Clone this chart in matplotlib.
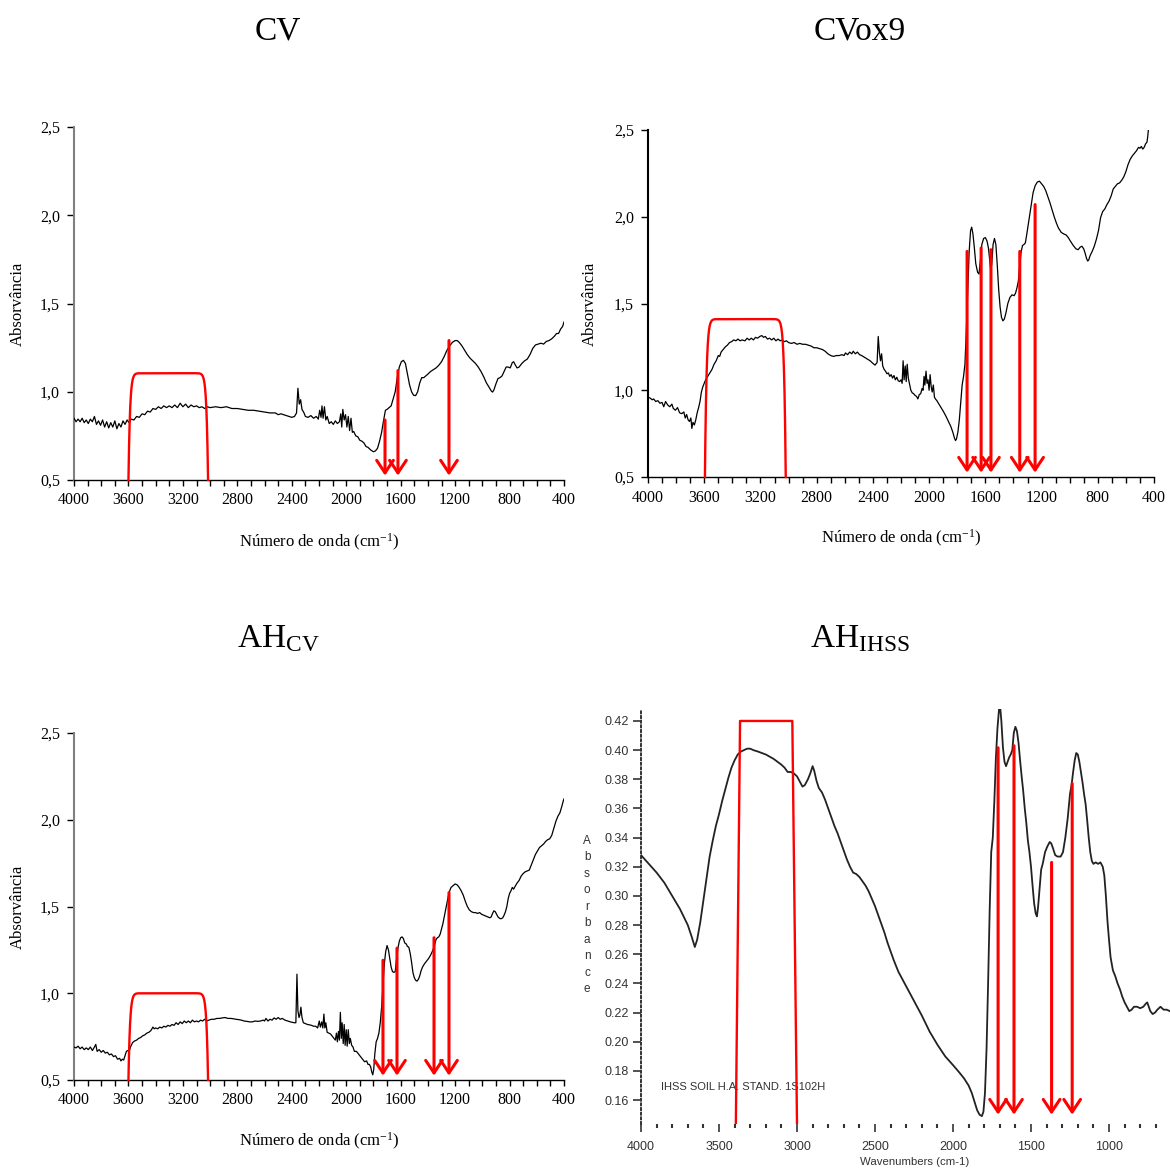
import numpy as np
import matplotlib
matplotlib.use('Agg')
import matplotlib.pyplot as plt
from matplotlib.ticker import MultipleLocator, FuncFormatter, FormatStrFormatter

plt.rcParams['font.family'] = ['Liberation Serif', 'DejaVu Serif']
plt.rcParams['mathtext.fontset'] = 'custom'
plt.rcParams['mathtext.rm'] = 'Liberation Serif'
plt.rcParams['mathtext.it'] = 'Liberation Serif:italic'

# ---- CV ----
cv_wn = [4000, 3985, 3970, 3955, 3940, 3925, 3910, 3895, 3880, 3865, 3850, 3835, 3820, 3805,
         3790, 3775, 3760, 3745, 3730, 3715, 3700, 3685, 3670, 3655, 3640, 3625, 3610, 3595,
         3580, 3560, 3540, 3520, 3500, 3480, 3460, 3440, 3420, 3400, 3380, 3360, 3340, 3320,
         3300, 3280, 3260, 3240, 3220, 3200, 3180, 3160, 3140, 3120, 3100, 3080, 3060, 3040,
         3020, 3000, 2960, 2920, 2880, 2840, 2800, 2760, 2720, 2680, 2640, 2600, 2560, 2520,
         2500, 2480, 2440, 2400, 2380, 2365, 2355, 2345, 2335, 2325, 2310, 2300, 2280, 2260,
         2240, 2220, 2205, 2195, 2185, 2178, 2170, 2160, 2150, 2140, 2125, 2110, 2095, 2080,
         2065, 2050, 2040, 2033, 2025, 2015, 2005, 1995, 1985, 1975, 1965, 1955, 1945, 1930,
         1915, 1900, 1885, 1870, 1855, 1840, 1820, 1800, 1785, 1770, 1755, 1740, 1725, 1712,
         1700, 1685, 1670, 1655, 1640, 1625, 1610, 1595, 1580, 1565, 1550, 1535, 1520, 1505,
         1490, 1475, 1460, 1445, 1430, 1415, 1400, 1380, 1360, 1340, 1320, 1300, 1280, 1260,
         1240, 1220, 1200, 1185, 1170, 1150, 1130, 1110, 1090, 1070, 1050, 1030, 1010, 990,
         970, 950, 935, 925, 915, 900, 885, 870, 855, 840, 825, 810, 795, 780, 770, 760, 745,
         730, 710, 690, 670, 650, 630, 610, 590, 570, 550, 530, 510, 490, 470, 455, 440, 425,
         410, 400]
cv_abs = [0.85, 0.83, 0.845, 0.83, 0.85, 0.825, 0.84, 0.82, 0.845, 0.83, 0.86, 0.815, 0.835, 0.81,
          0.84, 0.80, 0.83, 0.795, 0.825, 0.80, 0.835, 0.79, 0.82, 0.80, 0.835, 0.815, 0.84, 0.825,
          0.845, 0.84, 0.86, 0.855, 0.875, 0.87, 0.89, 0.885, 0.905, 0.90, 0.915, 0.905, 0.92, 0.91,
          0.92, 0.91, 0.925, 0.91, 0.935, 0.915, 0.93, 0.91, 0.925, 0.915, 0.92, 0.91, 0.915, 0.905,
          0.915, 0.91, 0.915, 0.91, 0.915, 0.905, 0.905, 0.90, 0.895, 0.895, 0.89, 0.885, 0.88, 0.88,
          0.87, 0.875, 0.865, 0.855, 0.86, 0.88, 1.02, 0.93, 0.955, 0.90, 0.88, 0.86, 0.855, 0.865,
          0.85, 0.86, 0.845, 0.895, 0.855, 0.92, 0.85, 0.915, 0.84, 0.86, 0.82, 0.83, 0.815, 0.835,
          0.82, 0.83, 0.875, 0.80, 0.90, 0.84, 0.87, 0.80, 0.86, 0.78, 0.85, 0.77, 0.775, 0.75,
          0.745, 0.725, 0.72, 0.71, 0.69, 0.685, 0.67, 0.66, 0.665, 0.68, 0.72, 0.77, 0.84, 0.895,
          0.90, 0.91, 0.92, 0.96, 1.00, 1.08, 1.14, 1.17, 1.178, 1.16, 1.10, 1.04, 1.00, 0.98,
          0.978, 1.00, 1.05, 1.08, 1.08, 1.09, 1.10, 1.115, 1.125, 1.135, 1.15, 1.17, 1.20, 1.235,
          1.26, 1.28, 1.29, 1.29, 1.28, 1.26, 1.235, 1.21, 1.19, 1.175, 1.16, 1.14, 1.115, 1.085,
          1.05, 1.025, 1.005, 0.998, 1.01, 1.045, 1.075, 1.08, 1.09, 1.115, 1.14, 1.14, 1.135, 1.165,
          1.17, 1.155, 1.135, 1.14, 1.16, 1.175, 1.185, 1.21, 1.245, 1.265, 1.27, 1.275, 1.27, 1.285,
          1.29, 1.30, 1.315, 1.33, 1.33, 1.355, 1.37, 1.395]
cv_band = [3600, 3015, 1.105]
cv_arrow_x = [1715, 1620, 1245]
cv_arrow_top = [0.84, 1.12, 1.29]

# ---- CVox9 ----
ox_wn = [4000, 3985, 3970, 3960, 3945, 3930, 3915, 3900, 3888, 3875, 3860, 3845, 3830, 3820,
         3805, 3790, 3775, 3760, 3745, 3735, 3725, 3715, 3705, 3695, 3688, 3680, 3670, 3660,
         3650, 3640, 3630, 3620, 3610, 3600, 3590, 3575, 3560, 3545, 3530, 3515, 3500, 3490,
         3480, 3465, 3450, 3435, 3420, 3405, 3390, 3375, 3360, 3345, 3330, 3310, 3295, 3280,
         3265, 3250, 3235, 3220, 3205, 3190, 3178, 3165, 3150, 3135, 3120, 3105, 3090, 3075,
         3060, 3045, 3030, 3015, 3000, 2980, 2960, 2940, 2920, 2900, 2880, 2860, 2840, 2820,
         2800, 2780, 2760, 2740, 2720, 2700, 2680, 2660, 2640, 2620, 2605, 2595, 2580, 2565,
         2550, 2540, 2525, 2510, 2495, 2480, 2460, 2440, 2420, 2400, 2385, 2370, 2362, 2354,
         2346, 2338, 2330, 2320, 2310, 2300, 2290, 2280, 2270, 2260, 2250, 2240, 2230, 2220,
         2210, 2200, 2192, 2185, 2178, 2170, 2163, 2156, 2148, 2140, 2130, 2120, 2110, 2100,
         2090, 2080, 2070, 2060, 2050, 2043, 2036, 2030, 2022, 2015, 2008, 2000, 1993, 1985,
         1978, 1970, 1962, 1955, 1945, 1930, 1915, 1900, 1880, 1860, 1845, 1830, 1820, 1812,
         1805, 1795, 1785, 1775, 1765, 1755, 1745, 1735, 1725, 1715, 1705, 1697, 1688, 1678,
         1668, 1655, 1645, 1635, 1625, 1612, 1600, 1588, 1578, 1570, 1563, 1555, 1545, 1535,
         1525, 1515, 1505, 1495, 1485, 1475, 1465, 1455, 1440, 1425, 1410, 1395, 1385, 1375,
         1365, 1355, 1345, 1335, 1325, 1315, 1305, 1290, 1275, 1260, 1245, 1230, 1215, 1200,
         1185, 1170, 1155, 1140, 1125, 1110, 1095, 1080, 1060, 1040, 1025, 1010, 995, 975, 955,
         940, 925, 913, 900, 890, 880, 872, 865, 855, 840, 825, 810, 795, 780, 765, 750, 735,
         720, 705, 690, 675, 660, 645, 630, 615, 600, 585, 570, 555, 540, 525, 510, 500, 490,
         480, 470, 460, 450, 445, 440]
ox_abs = [0.96, 0.955, 0.945, 0.95, 0.935, 0.94, 0.925, 0.93, 0.905, 0.935, 0.915, 0.905, 0.92, 0.895,
          0.885, 0.90, 0.87, 0.865, 0.875, 0.84, 0.86, 0.83, 0.82, 0.84, 0.78, 0.815, 0.80, 0.83,
          0.87, 0.90, 0.935, 0.99, 1.02, 1.04, 1.06, 1.08, 1.10, 1.12, 1.15, 1.17, 1.20, 1.195,
          1.22, 1.235, 1.25, 1.26, 1.275, 1.28, 1.29, 1.285, 1.295, 1.285, 1.29, 1.285, 1.30, 1.29,
          1.30, 1.29, 1.305, 1.30, 1.31, 1.315, 1.305, 1.31, 1.295, 1.30, 1.29, 1.30, 1.285, 1.295,
          1.285, 1.29, 1.28, 1.285, 1.275, 1.27, 1.275, 1.265, 1.27, 1.265, 1.265, 1.26, 1.255, 1.245,
          1.245, 1.24, 1.235, 1.225, 1.21, 1.20, 1.195, 1.20, 1.20, 1.205, 1.20, 1.215, 1.205, 1.22,
          1.21, 1.225, 1.21, 1.22, 1.205, 1.20, 1.19, 1.18, 1.17, 1.155, 1.145, 1.16, 1.31, 1.22,
          1.17, 1.21, 1.14, 1.12, 1.11, 1.095, 1.10, 1.08, 1.09, 1.07, 1.085, 1.06, 1.075, 1.055,
          1.05, 1.06, 1.04, 1.17, 1.06, 1.14, 1.05, 1.15, 1.07, 1.04, 1.00, 0.985, 0.98, 0.97,
          0.965, 0.95, 0.975, 0.98, 1.01, 1.00, 1.08, 1.03, 1.11, 1.04, 1.06, 1.00, 1.09, 1.02,
          0.99, 1.03, 0.96, 0.95, 0.94, 0.92, 0.90, 0.88, 0.85, 0.815, 0.79, 0.755, 0.725, 0.71,
          0.72, 0.76, 0.83, 0.93, 1.03, 1.08, 1.15, 1.35, 1.58, 1.80, 1.92, 1.94, 1.90, 1.82,
          1.73, 1.68, 1.67, 1.75, 1.84, 1.875, 1.88, 1.86, 1.82, 1.76, 1.70, 1.72, 1.84, 1.875,
          1.84, 1.72, 1.58, 1.48, 1.42, 1.40, 1.41, 1.44, 1.50, 1.535, 1.55, 1.545, 1.56, 1.59,
          1.63, 1.72, 1.80, 1.835, 1.84, 1.85, 1.90, 1.98, 2.06, 2.14, 2.18, 2.20, 2.205, 2.19,
          2.175, 2.15, 2.115, 2.08, 2.04, 2.00, 1.965, 1.935, 1.91, 1.90, 1.895, 1.88, 1.86, 1.835, 1.815,
          1.81, 1.825, 1.83, 1.815, 1.79, 1.76, 1.745, 1.75, 1.775, 1.80, 1.83, 1.87, 1.92, 1.995, 2.03, 2.045, 2.07,
          2.09, 2.12, 2.16, 2.175, 2.19, 2.195, 2.21, 2.23, 2.26, 2.30, 2.33, 2.35, 2.365, 2.38, 2.40, 2.395, 2.405,
          2.39, 2.40, 2.42, 2.43, 2.46, 2.50]
ox_band = [3595, 3020, 1.41]
ox_arrow_x = [1730, 1630, 1560, 1355, 1246]
ox_arrow_top = [1.80, 1.82, 1.81, 1.80, 2.07]

# ---- AH (CV) ----
ah_wn = [4000, 3985, 3970, 3955, 3940, 3925, 3910, 3895, 3880, 3865, 3850, 3840, 3830, 3815,
         3800, 3785, 3770, 3755, 3740, 3725, 3710, 3695, 3680, 3665, 3655, 3645, 3635, 3625,
         3615, 3605, 3595, 3585, 3570, 3555, 3540, 3525, 3510, 3495, 3480, 3465, 3450, 3435,
         3420, 3410, 3400, 3385, 3370, 3355, 3340, 3325, 3310, 3295, 3280, 3265, 3250, 3235,
         3220, 3205, 3190, 3175, 3160, 3145, 3130, 3115, 3100, 3085, 3070, 3055, 3040, 3025,
         3010, 2990, 2970, 2950, 2930, 2910, 2890, 2870, 2850, 2830, 2810, 2790, 2770, 2750,
         2730, 2710, 2690, 2670, 2650, 2630, 2610, 2600, 2590, 2575, 2560, 2545, 2530, 2515,
         2500, 2485, 2470, 2450, 2430, 2410, 2395, 2380, 2370, 2362, 2355, 2347, 2340, 2333,
         2325, 2315, 2300, 2285, 2270, 2255, 2240, 2225, 2210, 2198, 2190, 2180, 2172, 2164,
         2157, 2150, 2140, 2128, 2115, 2100, 2090, 2080, 2072, 2065, 2057, 2050, 2043, 2036,
         2030, 2022, 2015, 2008, 2000, 1993, 1985, 1977, 1970, 1960, 1950, 1940, 1925, 1910,
         1895, 1880, 1865, 1850, 1840, 1830, 1820, 1812, 1805, 1798, 1790, 1780, 1770, 1760,
         1750, 1740, 1730, 1720, 1710, 1700, 1690, 1680, 1670, 1660, 1650, 1640, 1630, 1620,
         1610, 1600, 1590, 1580, 1570, 1560, 1550, 1540, 1530, 1520, 1510, 1500, 1490, 1480,
         1470, 1460, 1450, 1440, 1425, 1410, 1395, 1380, 1365, 1350, 1340, 1330, 1320, 1310,
         1300, 1290, 1280, 1270, 1260, 1250, 1240, 1230, 1215, 1200, 1185, 1170, 1155, 1140,
         1125, 1110, 1095, 1080, 1065, 1050, 1035, 1020, 1005, 990, 975, 960, 945, 935, 925,
         915, 905, 895, 885, 870, 860, 850, 840, 830, 820, 810, 800, 790, 780, 770, 760, 745,
         730, 715, 700, 685, 670, 655, 640, 625, 610, 595, 580, 565, 550, 535, 520, 505, 490,
         475, 460, 445, 430, 415, 405, 400]
ah_abs = [0.69, 0.685, 0.695, 0.68, 0.69, 0.675, 0.685, 0.675, 0.69, 0.67, 0.69, 0.705, 0.665, 0.675,
          0.66, 0.67, 0.655, 0.66, 0.645, 0.65, 0.635, 0.64, 0.62, 0.625, 0.61, 0.62, 0.615, 0.64,
          0.665, 0.67, 0.665, 0.69, 0.715, 0.725, 0.73, 0.74, 0.745, 0.755, 0.76, 0.77, 0.775, 0.785,
          0.805, 0.795, 0.80, 0.795, 0.805, 0.80, 0.81, 0.805, 0.815, 0.81, 0.82, 0.815, 0.83, 0.82,
          0.835, 0.825, 0.84, 0.83, 0.84, 0.83, 0.845, 0.835, 0.84, 0.835, 0.845, 0.84, 0.85, 0.84,
          0.845, 0.85, 0.85, 0.855, 0.855, 0.858, 0.86, 0.855, 0.855, 0.853, 0.85, 0.848, 0.845, 0.84,
          0.838, 0.835, 0.835, 0.84, 0.838, 0.84, 0.845, 0.84, 0.855, 0.84, 0.85, 0.845, 0.858, 0.85,
          0.86, 0.85, 0.855, 0.845, 0.84, 0.835, 0.832, 0.83, 0.83, 1.11, 0.90, 0.86, 0.875, 0.92,
          0.86, 0.83, 0.825, 0.82, 0.818, 0.815, 0.81, 0.81, 0.80, 0.84, 0.805, 0.835, 0.80, 0.88,
          0.80, 0.83, 0.775, 0.77, 0.765, 0.75, 0.74, 0.73, 0.77, 0.72, 0.78, 0.73, 0.89, 0.74,
          0.83, 0.71, 0.82, 0.70, 0.79, 0.695, 0.79, 0.71, 0.74, 0.70, 0.69, 0.665, 0.665, 0.65,
          0.635, 0.62, 0.605, 0.61, 0.59, 0.59, 0.575, 0.545, 0.53, 0.56, 0.65, 0.72, 0.74, 0.77,
          0.83, 0.92, 1.05, 1.17, 1.24, 1.275, 1.25, 1.20, 1.15, 1.125, 1.12, 1.125, 1.20, 1.26,
          1.30, 1.32, 1.325, 1.315, 1.29, 1.285, 1.27, 1.265, 1.23, 1.18, 1.12, 1.09, 1.075, 1.07,
          1.08, 1.10, 1.13, 1.15, 1.17, 1.185, 1.20, 1.22, 1.245, 1.28, 1.31, 1.32, 1.325, 1.34,
          1.37, 1.40, 1.44, 1.48, 1.52, 1.56, 1.59, 1.61, 1.62, 1.63, 1.625, 1.61, 1.59, 1.565,
          1.53, 1.50, 1.48, 1.47, 1.465, 1.465, 1.46, 1.465, 1.455, 1.45, 1.445, 1.44, 1.435, 1.44, 1.46,
          1.475, 1.47, 1.455, 1.44, 1.43, 1.43, 1.435, 1.45, 1.47, 1.50, 1.545, 1.575, 1.59, 1.61, 1.60, 1.615, 1.635,
          1.65, 1.675, 1.69, 1.70, 1.705, 1.71, 1.74, 1.77, 1.80, 1.82, 1.84, 1.85, 1.86, 1.875, 1.885, 1.89, 1.91,
          1.95, 1.99, 2.02, 2.04, 2.08, 2.11, 2.12]
ah_band = [3600, 3015, 1.0]
ah_arrow_x = [1730, 1627, 1355, 1245]
ah_arrow_top = [1.19, 1.26, 1.32, 1.58]

# ---- AH IHSS standard ----
ihss_wn = [4000, 3950, 3900, 3850, 3800, 3750, 3700, 3675, 3655, 3640, 3620, 3600, 3580, 3560,
           3540, 3520, 3500, 3480, 3460, 3440, 3420, 3400, 3380, 3360, 3340, 3320, 3300, 3280,
           3250, 3200, 3150, 3100, 3080, 3060, 3040, 3020, 3000, 2980, 2965, 2950, 2930, 2915,
           2900, 2890, 2875, 2860, 2840, 2820, 2800, 2780, 2760, 2740, 2720, 2700, 2680, 2660,
           2640, 2620, 2600, 2580, 2560, 2540, 2520, 2500, 2480, 2460, 2440, 2420, 2400, 2380,
           2350, 2300, 2250, 2200, 2150, 2100, 2050, 2000, 1960, 1930, 1900, 1880, 1860, 1845,
           1830, 1815, 1805, 1795, 1785, 1775, 1765, 1755, 1745, 1735, 1725, 1715, 1705, 1698,
           1690, 1680, 1670, 1660, 1650, 1640, 1630, 1620, 1610, 1600, 1590, 1580, 1570, 1560,
           1550, 1540, 1530, 1520, 1510, 1500, 1490, 1480, 1470, 1462, 1455, 1445, 1435, 1425,
           1410, 1395, 1380, 1370, 1360, 1345, 1330, 1310, 1295, 1280, 1265, 1250, 1240, 1230,
           1220, 1210, 1200, 1190, 1180, 1170, 1160, 1150, 1140, 1130, 1120, 1110, 1100, 1085,
           1070, 1055, 1040, 1030, 1020, 1010, 1000, 990, 975, 960, 945, 930, 915, 900, 885, 870,
           855, 840, 820, 800, 780, 765, 755, 745, 735, 720, 705, 690, 670, 650, 630, 610]
ihss_abs = [0.328, 0.322, 0.316, 0.309, 0.300, 0.291, 0.280, 0.272, 0.265, 0.270, 0.282, 0.297, 0.312, 0.327,
            0.338, 0.348, 0.356, 0.365, 0.373, 0.381, 0.388, 0.393, 0.397, 0.399, 0.400, 0.401, 0.401, 0.400,
            0.399, 0.397, 0.394, 0.390, 0.388, 0.385, 0.385, 0.384, 0.382, 0.378, 0.375, 0.376, 0.380, 0.384,
            0.389, 0.386, 0.379, 0.374, 0.371, 0.366, 0.360, 0.354, 0.348, 0.343, 0.337, 0.331, 0.325, 0.320,
            0.316, 0.315, 0.313, 0.310, 0.307, 0.303, 0.298, 0.293, 0.287, 0.281, 0.275, 0.268, 0.262, 0.256,
            0.248, 0.238, 0.228, 0.218, 0.207, 0.198, 0.190, 0.184, 0.179, 0.175, 0.170, 0.165, 0.158, 0.153,
            0.150, 0.149, 0.152, 0.165, 0.195, 0.240, 0.290, 0.330, 0.340, 0.365, 0.395, 0.415, 0.428, 0.430,
            0.420, 0.402, 0.392, 0.389, 0.392, 0.395, 0.397, 0.400, 0.412, 0.416, 0.413, 0.405, 0.393, 0.382,
            0.372, 0.360, 0.350, 0.338, 0.330, 0.320, 0.307, 0.295, 0.288, 0.286, 0.292, 0.305, 0.318, 0.322,
            0.330, 0.334, 0.337, 0.336, 0.333, 0.328, 0.327, 0.327, 0.330, 0.340, 0.353, 0.370, 0.376, 0.385,
            0.393, 0.398, 0.397, 0.392, 0.385, 0.378, 0.370, 0.363, 0.352, 0.340, 0.330, 0.324, 0.322, 0.323,
            0.322, 0.323, 0.320, 0.314, 0.300, 0.283, 0.270, 0.258, 0.249, 0.245, 0.240, 0.236, 0.231, 0.227, 0.224, 0.221,
            0.222, 0.224, 0.224, 0.223, 0.224, 0.226, 0.227, 0.224, 0.221, 0.219, 0.220, 0.222, 0.224, 0.222, 0.222, 0.221]
ihss_band = [3392, 3365, 3030, 3000, 0.42]
ihss_arrow_x = [1711, 1609, 1368, 1236]
ihss_arrow_top = [0.4016, 0.403, 0.323, 0.377]

x_lab = 'Número de onda (cm$^{-1}$)'
y_lab = 'Absorvância'

fig = plt.figure(figsize=(11.70, 11.71), dpi=100)
W, H = 1170, 1171


def px_axes(x0, y0, x1, y1):
    return fig.add_axes([x0 / W, 1 - y1 / H, (x1 - x0) / W, (y1 - y0) / H])


def comma(v, pos):
    return f'{v:.1f}'.replace('.', ',')


def red_band(ax, left, right, top, bottom, n=25):
    u = np.linspace(-1, 1, 401)
    x = (left + right) / 2 + u * (left - right) / 2
    y = bottom + (top - bottom) * (1 - np.abs(u) ** n)
    ax.plot(x, y, color='red', lw=1.7, zorder=4, clip_on=False)


def red_arrows(ax, xs, tops, tip, lw=2.2):
    for x, t in zip(xs, tops):
        ax.annotate('', xy=(x, tip), xytext=(x, t),
                    arrowprops=dict(arrowstyle='->,head_length=0.45,head_width=0.3',
                                    color='red', lw=lw, mutation_scale=20,
                                    shrinkA=0, shrinkB=0), zorder=5)


def spectrum_panel(box, wn, ab, band, arr_x, arr_top, left_color):
    ax = px_axes(*box)
    ax.plot(wn, ab, color='black', lw=0.9, zorder=3)
    ax.set_xlim(4000, 400)
    ax.set_ylim(0.5, 2.5)
    ax.xaxis.set_major_locator(MultipleLocator(400))
    ax.xaxis.set_minor_locator(MultipleLocator(100))
    ax.yaxis.set_major_locator(MultipleLocator(0.5))
    ax.yaxis.set_major_formatter(FuncFormatter(comma))
    for s in ['top', 'right']:
        ax.spines[s].set_visible(False)
    ax.spines['left'].set_color(left_color)
    ax.spines['left'].set_linewidth(1.5)
    ax.spines['bottom'].set_linewidth(1.0)
    ax.tick_params(axis='both', which='both', direction='out', length=4, width=1.0,
                   labelsize=11.5, pad=5)
    ax.tick_params(axis='y', length=5)
    ax.set_xlabel(x_lab, fontsize=12, va='center')
    ax.xaxis.set_label_coords(0.5, -0.178)
    ax.set_ylabel(y_lab, fontsize=12, va='center')
    ax.yaxis.set_label_coords(-0.114, 0.5)
    red_band(ax, band[0], band[1], band[2], 0.5)
    red_arrows(ax, arr_x, arr_top, 0.525)
    return ax


spectrum_panel((74, 127, 564, 480), cv_wn, cv_abs, cv_band, cv_arrow_x, cv_arrow_top, '#808080')
spectrum_panel((648, 130, 1154, 477), ox_wn, ox_abs, ox_band, ox_arrow_x, ox_arrow_top, 'black')
spectrum_panel((74, 733, 564, 1080), ah_wn, ah_abs, ah_band, ah_arrow_x, ah_arrow_top, '#808080')

# IHSS reference spectrum, instrument-style axes
sans = ['Liberation Sans', 'DejaVu Sans']
ink = '#333333'
ax4 = px_axes(641, 709, 1170, 1124)
ax4.plot(ihss_wn, ihss_abs, color='#222222', lw=1.3, zorder=3)
ax4.set_xlim(4000, 609)
ax4.set_ylim(0.1436, 0.4282)
ax4.xaxis.set_major_locator(MultipleLocator(500))
ax4.xaxis.set_minor_locator(MultipleLocator(100))
ax4.yaxis.set_major_locator(MultipleLocator(0.02))
ax4.yaxis.set_major_formatter(FormatStrFormatter('%.2f'))
for s in ['top', 'right', 'bottom']:
    ax4.spines[s].set_visible(False)
ax4.spines['left'].set_linestyle((0, (1, 1.4)))
ax4.spines['left'].set_linewidth(1.4)
ax4.spines['left'].set_color(ink)
ax4.tick_params(axis='x', which='major', length=6, width=1.2, color=ink, pad=6)
ax4.tick_params(axis='x', which='minor', length=3, width=1.5, color=ink)
ax4.tick_params(axis='y', which='major', length=6, width=1.2, color=ink, pad=3)
for lab in ax4.get_xticklabels() + ax4.get_yticklabels():
    lab.set_family(sans)
    lab.set_fontsize(9)
    lab.set_color(ink)
ax4.set_xlabel('Wavenumbers (cm-1)', family=sans, fontsize=8.2, color=ink, va='center')
ax4.xaxis.set_label_coords(0.518, -0.092)
ax4.text(-0.102, 0.504, '\n'.join('Absorbance'), transform=ax4.transAxes,
         ha='center', va='center', family=sans, fontsize=8.5, color=ink, linespacing=1.5)
ax4.text(3872, 0.169, 'IHSS SOIL H.A. STAND. 1S102H', family=sans, fontsize=8, color=ink,
         va='center', ha='left')
ax4.plot([ihss_band[0], ihss_band[1], ihss_band[2], ihss_band[3]],
         [0.1436, ihss_band[4], ihss_band[4], 0.1436], color='red', lw=1.7, zorder=4)
red_arrows(ax4, ihss_arrow_x, ihss_arrow_top, 0.150)

# Panel titles
fig.text(278 / W, 1 - 39 / H, 'CV', ha='center', va='baseline', fontsize=24)
fig.text(860 / W, 1 - 39 / H, 'CVox9', ha='center', va='baseline', fontsize=24)
fig.text(278 / W, 1 - 647 / H, r'AH$_{\mathrm{CV}}$', ha='center', va='baseline', fontsize=24)
fig.text(860 / W, 1 - 647 / H, r'AH$_{\mathrm{IHSS}}$', ha='center', va='baseline', fontsize=24)

fig.savefig('out.png', dpi=100, facecolor='white')
